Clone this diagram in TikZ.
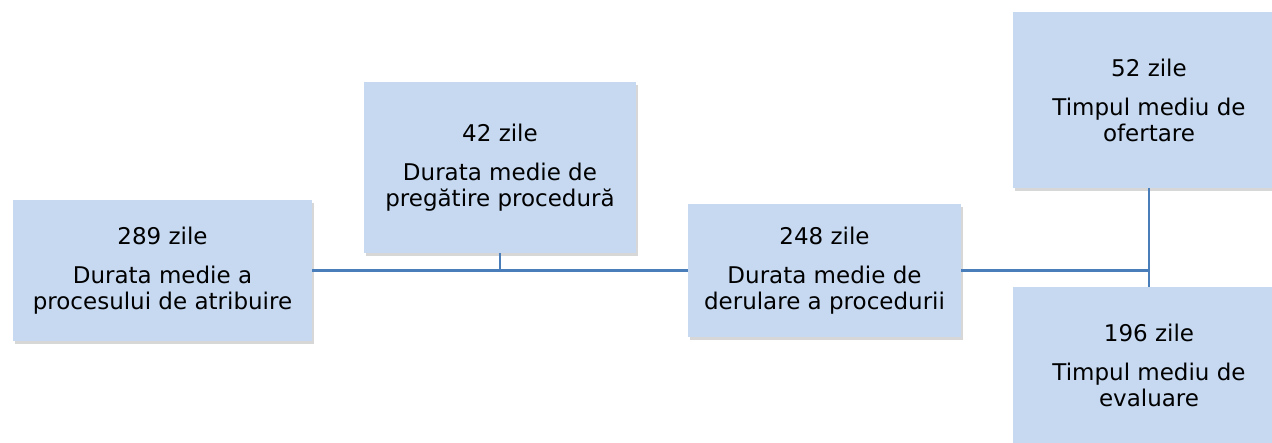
\documentclass[tikz,border=0pt]{standalone}
\usepackage{fontspec}
\setmainfont{DejaVu Sans}
\usetikzlibrary{shadows}
\definecolor{boxfill}{HTML}{C6D9F1}
\definecolor{linkblue}{HTML}{4A7EBB}
\tikzset{
  box/.style={rectangle, fill=boxfill, inner sep=0pt, align=center,
    font=\fontsize{23}{26}\selectfont, text=black,
    drop shadow={shadow xshift=2pt, shadow yshift=-3pt, opacity=0.35, fill=black!45}},
  link/.style={draw=linkblue, line width=3pt}
}
\begin{document}
\begin{tikzpicture}[x=1pt,y=-1pt]
\useasboundingbox (0,0) rectangle (1272,443);
\clip (0,0) rectangle (1272,443);
\node[box, minimum width=299pt, minimum height=141pt] (b1) at (162.5,270.5)
  {289 zile\\[13pt]Durata medie a\\procesului de atribuire};
\node[box, minimum width=272pt, minimum height=171pt] (b2) at (500,167.5)
  {42 zile\\[13pt]Durata medie de\\pregătire procedură};
\node[box, minimum width=273pt, minimum height=133pt] (b3) at (824.5,270.5)
  {248 zile\\[13pt]Durata medie de\\derulare a procedurii};
\node[box, minimum width=272pt, minimum height=176pt] (b4) at (1149,100)
  {52 zile\\[13pt]Timpul mediu de\\ofertare};
\node[box, minimum width=272pt, minimum height=156pt] (b5) at (1149,365)
  {196 zile\\[13pt]Timpul mediu de\\evaluare};
\coordinate (j1) at (b2.south |- b1.east);
\coordinate (j2) at (b4.south |- b3.east);
\draw[link] (b1.east) -- (b3.west);
\draw[link, line width=2pt] (b2.south) -- (j1);
\draw[link] (b3.east) -- (j2);
\draw[link, line width=2pt] (b4.south) -- (b5.north);
\end{tikzpicture}
\end{document}
